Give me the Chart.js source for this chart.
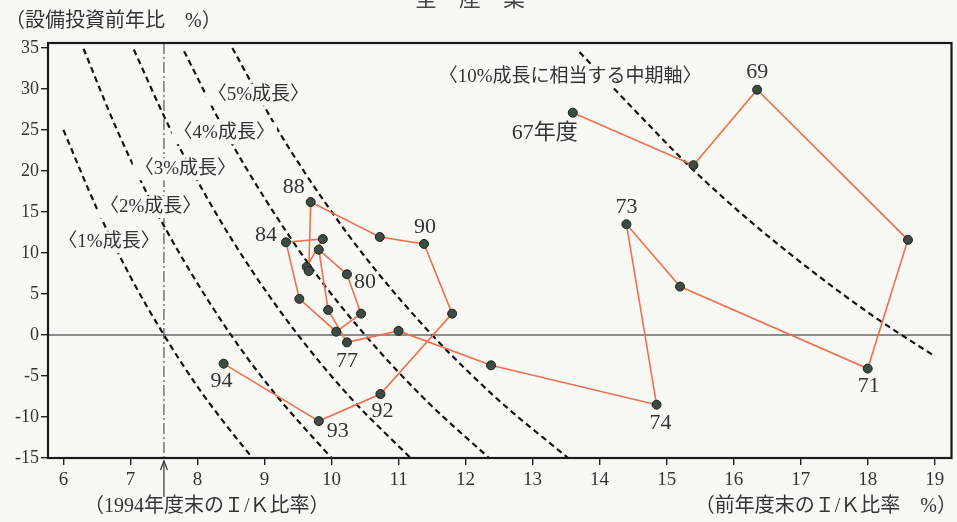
<!DOCTYPE html>
<html><head><meta charset="utf-8">
<script src="https://cdn.jsdelivr.net/npm/chart.js@4"></script>
<style>html,body{margin:0;padding:0;background:#f9f9f4;}#wrap{width:957px;height:522px;}</style>
</head><body><div id="wrap"><canvas id="c" width="957" height="522"></canvas></div>
<script>
// ---- data ----
const fiscalYears = ['67','68','69','70','71','72','73','74','75','76','77','78','79','80','81','82','83','84','85','86','87','88','89','90','91','92','93','94'];
const ikRatio     = [13.6,15.4,16.35,18.6,18.0,15.2,14.4,14.85,12.38,11.0,10.23,9.95,9.81,10.23,10.44,10.07,9.52,9.32,9.87,9.63,9.66,9.69,10.72,11.38,11.8,10.73,9.81,8.39];
const capexGrowth = [27.1,20.7,29.9,11.6,-4.1,5.9,13.5,-8.5,-3.7,0.5,-0.9,3.05,10.4,7.4,2.6,0.4,4.4,11.3,11.7,8.3,7.8,16.2,11.95,11.1,2.6,-7.2,-10.5,-3.5];

const growth1X  = [6.0,6.5,7.0,7.5,8.0,8.4,8.8];
const growth1Y  = [25.0,15.4,7.1,0,-6.3,-10.7,-14.8];
const growth2X  = [6.3,6.8,7.3,7.8,8.5,9.2,10.0];
const growth2Y  = [34.9,25.0,16.4,9.0,0,-7.6,-15.0];
const growth3X  = [7.05,7.6,8.2,8.8,9.5,10.3,11.18];
const growth3Y  = [34.8,25.0,15.9,8.0,0,-7.8,-15.0];
const growth4X  = [7.8,8.4,9.0,9.7,10.5,11.4,12.35];
const growth4Y  = [34.6,25.0,16.7,8.2,0,-7.9,-15.0];
const growth5X  = [8.52,9.2,9.9,10.6,11.5,12.5,13.53];
const growth5Y  = [35.0,25.0,16.2,8.5,0,-8.0,-15.0];
const growth10X = [13.7,14.5,15.4,16.3,17.2,18.1,19.0];
const growth10Y = [34.5,27.6,20.1,13.5,7.6,2.2,-2.6];

const curveLabels = ['〈1%成長〉','〈2%成長〉','〈3%成長〉','〈4%成長〉','〈5%成長〉','〈10%成長に相当する中期軸〉'];
const curveLabelX = [6.68,7.3,7.82,8.4,8.91,13.56];
const curveLabelY = [11.3,15.6,20.2,24.6,29.3,31.5];

const ref1994IK = 7.5;
const xTicks = [6,7,8,9,10,11,12,13,14,15,16,17,18,19];
const yTicks = [-15,-10,-5,0,5,10,15,20,25,30,35];

const pointLabelText = {'67':'67年度','69':'69','71':'71','73':'73','74':'74','77':'77','80':'80','84':'84','88':'88','90':'90','92':'92','93':'93','94':'94'};

// ---- styles ----
const BG = '#f9f9f4';
const SERIF = "'Liberation Serif','Noto Sans CJK JP',serif";
const CJK = "'Noto Sans CJK JP','Liberation Serif',sans-serif";
const labelOffset = {'67':[-28,21],'69':[0,-18],'71':[1,18],'73':[0,-17],'74':[4,19],'77':[0,19],'80':[18,8],'84':[-20,-7],'88':[-17,-15],'90':[1,-17],'92':[2,17],'93':[19,10],'94':[-2,18]};

const curves = [[growth1X,growth1Y],[growth2X,growth2Y],[growth3X,growth3Y],[growth4X,growth4Y],[growth5X,growth5Y],[growth10X,growth10Y]];

const decor = {
  id:'decor',
  beforeDatasetsDraw(chart){
    const {ctx, chartArea:a, scales:{x,y}} = chart;
    ctx.save();
    ctx.fillStyle = BG; ctx.fillRect(a.left,a.top,a.width,a.height);
    const y0 = y.getPixelForValue(0);
    ctx.strokeStyle = '#222'; ctx.lineWidth = 1.2;
    ctx.beginPath(); ctx.moveTo(a.left,y0); ctx.lineTo(a.right,y0); ctx.stroke();
    const xr = x.getPixelForValue(ref1994IK);
    ctx.setLineDash([11,3,2,3]); ctx.lineWidth = 1; ctx.strokeStyle='#333';
    ctx.beginPath(); ctx.moveTo(xr,a.top); ctx.lineTo(xr,a.bottom); ctx.stroke();
    ctx.restore();
  },
  afterDatasetsDraw(chart){
    const {ctx, scales:{x,y}} = chart;
    ctx.save();
    curveLabels.forEach((t,i)=>{
      const px = x.getPixelForValue(curveLabelX[i]), py = y.getPixelForValue(curveLabelY[i]);
      ctx.font = '19px ' + SERIF;
      const w = ctx.measureText(t).width;
      ctx.fillStyle = BG; ctx.fillRect(px-w/2-2, py-11, w+4, 22);
      ctx.fillStyle = '#333'; ctx.textAlign='center'; ctx.textBaseline='middle';
      ctx.fillText(t, px, py);
    });
    const meta = chart.getDatasetMeta(0);
    fiscalYears.forEach((yr,i)=>{
      const t = pointLabelText[yr]; if(!t) return;
      const p = meta.data[i]; const o = labelOffset[yr];
      ctx.font = '22px ' + SERIF; ctx.fillStyle = '#333';
      ctx.textAlign='center'; ctx.textBaseline='middle';
      ctx.fillText(t, p.x+o[0], p.y+o[1]);
    });
    ctx.restore();
  },
  afterDraw(chart){
    const {ctx, chartArea:a, scales:{x}} = chart;
    ctx.save();
    ctx.strokeStyle = '#1a1a1a'; ctx.lineWidth = 2.2;
    ctx.strokeRect(a.left, a.top, a.width, a.height);
    ctx.fillStyle='#444'; ctx.font = '22px ' + CJK; ctx.textAlign='center'; ctx.textBaseline='alphabetic';
    ctx.fillText('全　産　業', 470, 6);
    ctx.font = '20px ' + SERIF; ctx.textAlign='left'; ctx.textBaseline='middle'; ctx.fillStyle='#333';
    ctx.fillText('（設備投資前年比　%）', 5, 22);
    ctx.fillText('（1994年度末のＩ/Ｋ比率）', 84, 507);
    ctx.textAlign='right';
    ctx.fillText('（前年度末のＩ/Ｋ比率　%）', 957, 507);
    const xr = x.getPixelForValue(ref1994IK);
    ctx.strokeStyle='#333'; ctx.lineWidth=1.2;
    ctx.beginPath(); ctx.moveTo(xr, 497); ctx.lineTo(xr, a.bottom+4); ctx.stroke();
    ctx.beginPath(); ctx.moveTo(xr-3.5, a.bottom+12); ctx.lineTo(xr, a.bottom+3); ctx.lineTo(xr+3.5, a.bottom+12); ctx.stroke();
    ctx.restore();
  }
};

const datasets = [{
  data: ikRatio.map((v,i)=>({x:v, y:capexGrowth[i]})),
  showLine:true, borderColor:'#ee7050', borderWidth:1.6,
  pointRadius:4.5, pointBackgroundColor:'#3e4b43', pointBorderColor:'#1c231f', pointBorderWidth:1, order:0
}].concat(curves.map(c=>({
  data: c[0].map((v,i)=>({x:v, y:c[1][i]})),
  showLine:true, borderColor:'#151515', borderWidth:2.2, borderDash:[6,4],
  pointRadius:0, cubicInterpolationMode:'monotone', order:1
})));

new Chart(document.getElementById('c'), {
  type:'scatter',
  data:{datasets},
  options:{
    responsive:false, animation:false, devicePixelRatio:1,
    plugins:{legend:{display:false}, tooltip:{enabled:false}},
    layout:{padding:{top:43, right:5, left:0, bottom:0}},
    scales:{
      x:{type:'linear', min:5.77, max:19.25,
        afterBuildTicks:s=>{s.ticks = xTicks.map(v=>({value:v}));},
        afterFit:s=>{s.height = 64;},
        border:{display:false},
        grid:{drawOnChartArea:false, drawTicks:true, tickLength:7, color:'#222', lineWidth:1.4},
        ticks:{color:'#333', font:{family:SERIF, size:19}, padding:4, maxRotation:0, autoSkip:false}
      },
      y:{type:'linear', min:-15, max:35.6,
        afterBuildTicks:s=>{s.ticks = yTicks.map(v=>({value:v}));},
        afterFit:s=>{s.width = 48;},
        border:{display:false},
        grid:{drawOnChartArea:false, drawTicks:true, tickLength:7, color:'#222', lineWidth:1.4},
        ticks:{color:'#333', font:{family:SERIF, size:18}, padding:2, autoSkip:false}
      }
    }
  },
  plugins:[decor]
});
</script></body></html>
